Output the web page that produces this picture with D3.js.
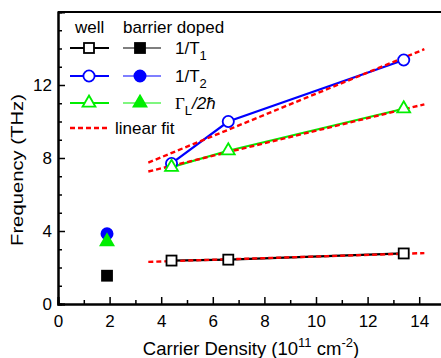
<!DOCTYPE html>
<html>
<head>
<meta charset="utf-8">
<script src="https://cdn.jsdelivr.net/npm/d3@7"></script>
<style>
  html, body { margin: 0; padding: 0; background: #fff; }
  svg { display: block; font-family: Arial, "Liberation Sans", Helvetica, sans-serif; }
</style>
</head>
<body>
<svg id="chart" width="441" height="358"></svg>
<script>
// Carrier density (10^11 cm^-2) of the well-doped samples
const wellDensity = [4.4, 6.6, 13.4];
// Scattering rates (THz) of the well-doped samples
const wellT1 = [2.38, 2.43, 2.77];
const wellT2 = [7.7, 10.0, 13.37];
const wellGamma = [7.5, 8.4, 10.7];

// Barrier-doped sample
const barrierDensity = [1.9];
const barrierT1 = [1.55];
const barrierT2 = [3.85];
const barrierGamma = [3.42];

// Linear fits: end points of each dashed line
const fitDensity = [3.5, 14.2];
const fitT1 = [2.31, 2.79];
const fitT2 = [7.75, 13.96];
const fitGamma = [7.26, 10.94];

const xTicks = [0, 2, 4, 6, 8, 10, 12, 14];
const yTicks = [0, 4, 8, 12];

const svg = d3.select("#chart");
const x = d3.scaleLinear().domain([0, 15]).range([58, 445]);
const y = d3.scaleLinear().domain([0, 16]).range([304, 12]);

const BLACK = "#000000", BLUE = "#0000ff", GREEN = "#00ee00", RED = "#ff0000";
const FONT = "Arial, 'Liberation Sans', sans-serif";

// Axes with inward ticks
const xAxis = svg.append("g").attr("transform", `translate(0,${y(0)})`)
  .call(d3.axisBottom(x).tickValues(xTicks).tickSize(-7).tickPadding(11).tickFormat(d3.format("d")));
const xMinor = svg.append("g").attr("transform", `translate(0,${y(0)})`)
  .call(d3.axisBottom(x).tickValues(d3.range(1, 15, 2)).tickSize(-4).tickFormat(""));
const yAxis = svg.append("g").attr("transform", `translate(${x(0)},0)`)
  .call(d3.axisLeft(y).tickValues(yTicks).tickSize(-7).tickPadding(6).tickFormat(d3.format("d")));
const yMinor = svg.append("g").attr("transform", `translate(${x(0)},0)`)
  .call(d3.axisLeft(y).tickValues(d3.range(0, 17).filter(v => v % 4 !== 0)).tickSize(-4).tickFormat(""));

[xAxis, xMinor, yAxis, yMinor].forEach(g => {
  g.select(".domain").attr("stroke", BLACK).attr("stroke-width", 2);
  g.selectAll(".tick line").attr("stroke", BLACK).attr("stroke-width", 1.5);
  g.selectAll(".tick text").attr("fill", BLACK).style("font-size", "17px").style("font-family", FONT);
});

// Top frame line
svg.append("line")
  .attr("x1", x(0)).attr("x2", x(15)).attr("y1", y(16)).attr("y2", y(16))
  .attr("stroke", BLACK).attr("stroke-width", 2);

// Axis titles
svg.append("text")
  .attr("transform", `translate(23,170) rotate(-90)`)
  .attr("text-anchor", "middle")
  .attr("textLength", 152)
  .attr("lengthAdjust", "spacingAndGlyphs")
  .style("font-size", "17px")
  .text("Frequency (THz)");

const xt = svg.append("text")
  .attr("x", 251).attr("y", 355)
  .attr("text-anchor", "middle")
  .style("font-size", "18.5px");
xt.append("tspan").text("Carrier Density (10");
xt.append("tspan").attr("dy", -8).style("font-size", "13px").text("11");
xt.append("tspan").attr("dy", 8).text(" cm");
xt.append("tspan").attr("dy", -8).style("font-size", "13px").text("-2");
xt.append("tspan").attr("dy", 8).text(")");

// Marker helpers
function square(g, cx, cy, color, filled) {
  g.append("rect").attr("x", cx - 5).attr("y", cy - 5).attr("width", 10).attr("height", 10)
    .attr("fill", filled ? color : "#fff").attr("stroke", color).attr("stroke-width", 1.8);
}
function circle(g, cx, cy, color, filled) {
  g.append("circle").attr("cx", cx).attr("cy", cy).attr("r", 5.6)
    .attr("fill", filled ? color : "#fff").attr("stroke", color).attr("stroke-width", 1.8);
}
function triangle(g, cx, cy, color, filled) {
  g.append("path").attr("d", d3.symbol().type(d3.symbolTriangle).size(72)())
    .attr("transform", `translate(${cx},${cy})`)
    .attr("fill", filled ? color : "#fff").attr("stroke", color).attr("stroke-width", 1.8);
}

const series = [
  { vals: wellT1, bar: barrierT1, fit: fitT1, color: BLACK, mark: square },
  { vals: wellT2, bar: barrierT2, fit: fitT2, color: BLUE, mark: circle },
  { vals: wellGamma, bar: barrierGamma, fit: fitGamma, color: GREEN, mark: triangle }
];

const line = d3.line().x(d => x(d[0])).y(d => y(d[1]));
const plot = svg.append("g");

// Connecting lines of the well-doped series
series.forEach(s => {
  plot.append("path").datum(wellDensity.map((d, i) => [d, s.vals[i]]))
    .attr("d", line).attr("fill", "none").attr("stroke", s.color).attr("stroke-width", 2.2);
});
// Linear fits
series.forEach(s => {
  plot.append("path").datum(fitDensity.map((d, i) => [d, s.fit[i]]))
    .attr("d", line).attr("fill", "none").attr("stroke", RED)
    .attr("stroke-width", 2.4).attr("stroke-dasharray", "5,3");
});
// Markers
series.forEach(s => {
  wellDensity.forEach((d, i) => s.mark(plot, x(d), y(s.vals[i]), s.color, false));
  barrierDensity.forEach((d, i) => s.mark(plot, x(d), y(s.bar[i]), s.color, true));
});

// Legend
const lg = svg.append("g").style("font-size", "17px");
lg.append("text").attr("x", 75).attr("y", 33).text("well");
lg.append("text").attr("x", 123).attr("y", 33).text("barrier doped");
const rows = [48, 76, 103];
series.forEach((s, i) => {
  const ry = rows[i];
  lg.append("line").attr("x1", 70).attr("x2", 109).attr("y1", ry).attr("y2", ry)
    .attr("stroke", s.color).attr("stroke-width", 2.2);
  s.mark(lg, 89, ry, s.color, false);
  lg.append("line").attr("x1", 123).attr("x2", 161).attr("y1", ry).attr("y2", ry)
    .attr("stroke", s.color).attr("stroke-width", 1.2);
  s.mark(lg, 140, ry, s.color, true);
});
const l1 = lg.append("text").attr("x", 175).attr("y", rows[0] + 6);
l1.append("tspan").text("1/T");
l1.append("tspan").attr("dy", 6).style("font-size", "13px").text("1");
const l2 = lg.append("text").attr("x", 175).attr("y", rows[1] + 6);
l2.append("tspan").text("1/T");
l2.append("tspan").attr("dy", 6).style("font-size", "13px").text("2");
const l3 = lg.append("text").attr("x", 175).attr("y", rows[2] + 6);
l3.append("tspan").style("font-family", "'Liberation Serif', 'Times New Roman', serif").text("Γ");
l3.append("tspan").attr("dy", 6).style("font-size", "13px").text("L");
l3.append("tspan").attr("dy", -6).style("font-style", "italic").text("/2ħ");

lg.append("line").attr("x1", 70).attr("x2", 109).attr("y1", 128).attr("y2", 128)
  .attr("stroke", RED).attr("stroke-width", 2.4).attr("stroke-dasharray", "5,3");
lg.append("text").attr("x", 115).attr("y", 134).text("linear fit");
</script>
</body>
</html>
